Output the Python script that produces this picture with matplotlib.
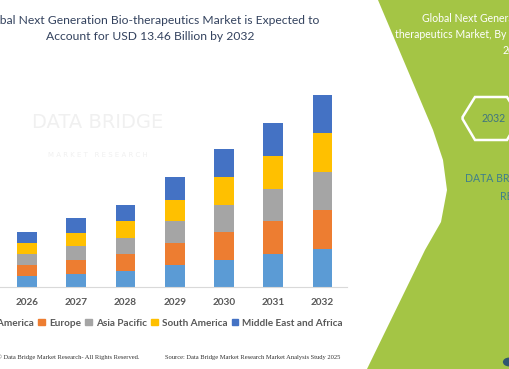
import numpy as np
import matplotlib.pyplot as plt
from matplotlib.patches import Polygon, Circle, Patch

years = ['2026', '2027', '2028', '2029', '2030', '2031', '2032']
regions = ['North America', 'Europe', 'Asia Pacific', 'South America', 'Middle East and Africa']
# USD billion
north_america = [0.75, 0.93, 1.10, 1.52, 1.92, 2.31, 2.66]
europe        = [0.79, 0.98, 1.19, 1.57, 1.96, 2.34, 2.76]
asia_pacific  = [0.75, 0.93, 1.17, 1.52, 1.87, 2.22, 2.64]
south_america = [0.79, 0.98, 1.15, 1.52, 1.96, 2.34, 2.73]
mea           = [0.75, 1.00, 1.12, 1.57, 1.94, 2.29, 2.66]
series = [north_america, europe, asia_pacific, south_america, mea]
colors = ['#5b9bd5', '#ed7d31', '#a5a5a5', '#ffc000', '#4472c4']

W, H = 510, 369
def fx(x): return x / W
def fy(y): return 1 - y / H

fig = plt.figure(figsize=(5.1, 3.69), dpi=100)

# green side panel
green = [(378, 0), (433, 130), (443, 160), (447, 190), (441, 222), (425, 250), (367, 369), (515, 369), (515, 0)]
fig.patches.append(Polygon([(fx(x), fy(y)) for x, y in green], closed=True, transform=fig.transFigure,
                           facecolor='#a4c545', edgecolor='none', zorder=0))
hexa = [(462, 118), (475, 97), (507, 97), (520, 118), (507, 140), (475, 140)]
fig.patches.append(Polygon([(fx(x), fy(y)) for x, y in hexa], closed=True, transform=fig.transFigure,
                           facecolor='none', edgecolor='white', lw=1.8, zorder=1))
fig.patches.append(Circle((fx(509), fy(362)), 0.012, transform=fig.transFigure, facecolor='#2f5670', edgecolor='none'))

fig.text(fx(422), fy(18), 'Global Next Generation Bio-', color='white', fontsize=7.6, family='Lato', va='center')
fig.text(fx(395), fy(35), 'therapeutics Market, By Region,', color='white', fontsize=7.6, family='Lato', va='center')
fig.text(fx(503), fy(51), '2025-2032', color='white', fontsize=7.6, family='Lato', va='center')
fig.text(fx(482), fy(118), '2032', color='#3f7580', fontsize=7.6, family='Lato', va='center')
fig.text(fx(465), fy(179), 'DATA BRIDGE MARKET', color='#3f7f8c', fontsize=7.6, family='Lato', va='center')
fig.text(fx(500), fy(196), 'RESEARCH', color='#3f7f8c', fontsize=7.6, family='Lato', va='center')

# faint watermark
fig.text(fx(98), fy(122), 'DATA BRIDGE', color='#f0f0f0', fontsize=14,
         ha='center', va='center', zorder=0)
fig.text(fx(98), fy(155), 'M A R K E T   R E S E A R C H', color='#f0f0f0', fontsize=5, ha='center', va='center', zorder=0)

# title
fig.text(fx(150), fy(21), 'Global Next Generation Bio-therapeutics Market is Expected to',
         color='#33425e', fontsize=8.75, family='Lato', ha='center', va='center')
fig.text(fx(150), fy(37), 'Account for USD 13.46 Billion by 2032',
         color='#33425e', fontsize=8.75, family='Lato', ha='center', va='center')

ax = fig.add_axes([0, fy(287), fx(347), (287 - 58.8) / H])
ax.patch.set_visible(False)
x = np.arange(len(years))
bottom = np.zeros(len(years))
for vals, c, name in zip(series, colors, regions):
    ax.bar(x, vals, 0.4, bottom=bottom, color=c, label=name, zorder=2)
    bottom += np.array(vals)
ax.set_xlim(-0.548, 6.5)
ax.set_ylim(0, 16)
ax.set_yticks([])
for s in ['top', 'right', 'left']:
    ax.spines[s].set_visible(False)
ax.spines['bottom'].set_color('#d9d9d9')
ax.spines['bottom'].set_linewidth(0.8)
ax.set_xticks(x)
ax.set_xticklabels(years, fontsize=7.2, fontweight='bold', color='#595959', family='Lato')
ax.tick_params(axis='x', length=0, pad=8)

handles = [Patch(color=c) for c in colors]
fig.legend(handles, regions, loc='center right', bbox_to_anchor=(fx(343), fy(323)), ncol=5, frameon=False,
           prop={'family': 'Lato', 'weight': 'bold', 'size': 7.2}, labelcolor='#595959',
           handlelength=0.65, handleheight=0.65, handletextpad=0.4, columnspacing=0.45, borderpad=0, borderaxespad=0)

fig.text(fx(-3), fy(357), '\u00a9 Data Bridge Market Research- All Rights Reserved.', fontsize=4.7,
         family='Liberation Serif', color='#333333', va='center')
fig.text(fx(165), fy(357), 'Source: Data Bridge Market Research Market Analysis Study 2025', fontsize=4.7,
         family='Liberation Serif', color='#333333', va='center')

fig.savefig('out.png', dpi=100)
